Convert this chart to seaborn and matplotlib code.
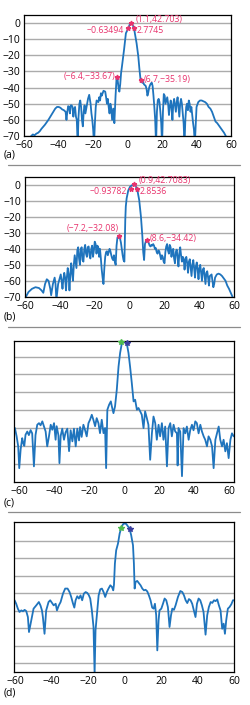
import numpy as np
import pandas as pd
import seaborn as sns
import matplotlib.pyplot as plt
from matplotlib.lines import Line2D

# ---- data (angle in deg, level in dB) ----
# panel (a)
a_x = [-56, -55, -54, -53, -52, -51, -50, -48, -46, -44,
       -42, -41, -40, -39, -38, -37, -36, -35.5, -35, -34.5,
       -34, -33.5, -33, -32.5, -32, -31.5, -31, -30.5, -30, -29.5,
       -29, -28.5, -28, -27.5, -27, -26.5, -26, -25.5, -25, -24.5,
       -24, -23.5, -23, -22.3, -21.5, -21, -20.5, -20, -19.5, -19,
       -18.5, -18, -17, -16.5, -16, -15.5, -15, -14, -13, -12.5,
       -12, -11.5, -11, -10.5, -10, -9.5, -9, -8.3, -7.7, -7,
       -6.4, -5.8, -5.3, -4.8, -4.3, -3.8, -3.3, -2.1, -1, 0.4,
       1.2, 2, 2.8, 3.7, 4.2, 5.2, 6.2, 6.8, 7.5, 8,
       8.5, 9, 9.5, 10, 10.5, 11, 11.5, 12, 12.5, 13,
       13.5, 14, 14.5, 15, 15.5, 16, 16.5, 17, 17.5, 18,
       18.5, 19, 19.5, 20, 20.5, 21, 21.5, 22, 22.5, 23,
       23.5, 24, 24.5, 25, 25.5, 26, 26.5, 27, 27.5, 28,
       28.5, 29, 29.5, 30, 30.5, 31, 31.5, 32, 32.5, 33,
       33.5, 34, 34.5, 35, 35.5, 36, 36.5, 37, 37.5, 38,
       38.5, 39, 40, 41, 42, 43, 44, 45, 46, 47,
       48, 49, 50, 51, 52, 53, 54, 55, 56, 57]
a_y = [-70, -69, -69.5, -68.5, -68, -67, -65.5, -63, -60, -56.5,
       -53, -52, -52, -52.5, -53.5, -54, -55, -60, -55, -51.5,
       -52, -56, -51, -51, -52, -58, -53, -52, -58, -60,
       -75, -58, -50, -48, -52, -60, -64, -55, -51, -56,
       -53, -50, -47, -44.5, -50, -56, -60, -66, -75, -62,
       -52, -48, -49, -46, -48, -43.5, -45, -42, -42.5, -46,
       -50, -47, -52, -56, -50, -53, -60, -53, -62, -45,
       -33.7, -35, -40, -42.5, -38, -31, -27, -16.8, -6.4, -3.3,
       -1, 0, -1, -3.3, -6.4, -12.6, -20.8, -28, -35.2, -36,
       -37, -36.5, -38, -38.5, -39, -41, -45, -43, -40, -38.5,
       -37.5, -37, -39, -45, -52, -60, -75, -55, -48, -47,
       -49, -55, -62, -75, -55, -44, -45, -50, -48, -46,
       -50, -57, -52, -48, -52, -60, -50, -47, -51, -55,
       -49, -46, -52, -58, -50, -47, -50, -56, -62, -75,
       -60, -52, -50, -54, -48, -50, -55, -52, -57, -62,
       -66, -75, -52, -49, -48, -48, -48.5, -49, -50, -52,
       -53, -55, -58, -61, -62, -63.5, -65, -66.5, -68, -70]
a_mark_x = [2, 0.4, 3.7, -6.4, 7.5]
a_mark_y = [0, -3.3, -3.3, -33.67, -35.19]

# panel (b)
b_x = [-59.5, -58, -56, -54, -52, -50.5, -49.5, -48.5, -47.5, -46.5,
       -45.5, -45, -44, -43, -42.5, -42, -41, -40.5, -39.5, -39,
       -38.5, -38, -37.5, -37, -36.5, -36, -35.5, -35, -34.5, -34,
       -33.5, -33, -32.5, -32, -31.5, -31, -30.5, -30, -29.5, -29,
       -28.5, -28, -27.5, -27, -26.5, -26, -25.5, -25, -24.5, -24,
       -23.5, -23, -22.5, -22, -21.5, -21, -20.5, -20, -19.5, -19,
       -18.5, -18, -17.5, -17, -16.5, -16, -15.5, -15, -14.5, -14,
       -13.5, -13, -12.5, -12, -11.5, -11, -10.5, -10, -9.5, -9,
       -8.5, -8, -7.5, -7, -6, -5.5, -5, -4.5, -4, -3.5,
       -3, -2.5, -2.2, -1.7, -0.8, 0.2, 1.3, 2.5, 3.4, 4.4,
       5.5, 6.5, 7.3, 7.8, 8.3, 8.8, 9.4, 10, 10.5, 11,
       11.5, 12, 12.5, 13, 13.5, 14, 14.5, 15, 15.5, 16,
       16.5, 17, 17.5, 18, 18.5, 19, 19.5, 20, 20.5, 21,
       21.5, 22, 22.5, 23, 23.5, 24, 24.5, 25, 25.5, 26,
       26.5, 27, 27.5, 28, 28.5, 29, 29.5, 30, 30.5, 31,
       31.5, 32, 32.5, 33, 33.5, 34, 34.5, 35, 35.5, 36,
       36.5, 37, 37.5, 38, 38.5, 39, 39.5, 40, 40.5, 41,
       41.5, 42, 42.5, 43, 43.5, 44, 44.5, 45, 45.5, 46,
       47, 47.5, 48, 48.5, 49, 50, 51, 52, 53, 54,
       55, 56, 57, 58, 59]
b_y = [-70, -67, -65, -64, -64.5, -66, -67.5, -62, -59, -60,
       -65, -69, -62, -58, -62, -72, -62, -60, -56, -60,
       -65, -59, -55, -58, -66, -58, -52, -56, -66, -56,
       -49, -55, -60, -50, -44, -48, -52, -41, -39, -46,
       -50, -40, -39, -47, -48, -40, -37.5, -43, -45, -39,
       -38.5, -44, -46, -40, -38, -45, -41, -35.5, -37, -43,
       -38, -39, -45, -40, -46, -53, -58, -62, -52, -45,
       -42, -41.5, -44, -42, -40, -41.5, -44, -46, -47, -44,
       -48, -50, -38, -33, -32, -33.5, -36, -40, -44, -47,
       -48, -22, -13.5, -8.3, -3.5, -1.2, -0.2, 0, -0.6, -3,
       -9.5, -20, -32, -42, -47, -37, -35, -34.4, -35.5, -36.5,
       -38, -38.5, -37.5, -38, -37, -38, -40, -39.5, -42, -43,
       -41, -41.5, -44, -46.5, -44, -45, -48, -49, -42, -38.5,
       -37, -41, -43, -37.5, -39, -45, -41, -40, -46, -49,
       -42, -40.5, -45, -51, -43, -39, -44, -48, -45, -46,
       -53, -47, -45, -49, -55, -48, -46.5, -52, -57, -50,
       -47, -52, -58, -51, -48.5, -53, -59, -52, -50, -55,
       -60, -53, -52, -57, -62, -55, -54, -58, -63, -57,
       -56, -60, -64, -62, -58, -56, -55.5, -56, -57, -58.5,
       -60, -63, -65, -67.5, -70]
b_mark_x = [2.5, 0.6, 4.4, -6, 10]
b_mark_y = [0.4, -2.5, -2.7, -32.08, -34.42]

# panel (c)
c_x = [-62.5, -61.5, -60.6, -60, -59.2, -58.3, -57.7, -57.1, -56.4, -55.4,
       -54.5, -53.5, -52.6, -51.6, -50.7, -49.7, -48.7, -47.8, -46.8, -45.9,
       -44.9, -44, -43, -42, -41.1, -40.1, -39.2, -38.6, -37.6, -37,
       -36.3, -35.4, -34.4, -33.5, -32.5, -31.5, -30.6, -29.6, -28.7, -27.7,
       -26.8, -25.8, -25.2, -24.3, -23.3, -22.4, -21.4, -20.4, -19.5, -18.5,
       -17.6, -16.6, -15.7, -14.7, -13.8, -12.8, -11.8, -10.9, -10.3, -9.6,
       -8.6, -7.6, -7, -6.1, -5.2, -4.2, -3.2, -2.3, -1.3, -0.4,
       0.6, 1.5, 2.5, 3.4, 4.4, 5.4, 6.3, 7.3, 8.2, 9.2,
       10.1, 11.1, 12, 13, 13.9, 14.9, 15.9, 16.8, 17.8, 18.7,
       19.7, 20.6, 21.6, 22.5, 23.5, 24.5, 25.4, 26.4, 27.3, 28.3,
       29.2, 30.2, 30.6, 31.1, 32.1, 33.1, 34, 35, 35.9, 36.9,
       37.8, 38.8, 39.7, 40.7, 41.6, 42.6, 43.6, 44.5, 45.5, 46.4,
       47.4, 48.3, 49.3, 50.3, 51.2, 52.2, 53.1, 54.1, 55, 56,
       56.9, 57.9, 58.8, 59.8, 60.8, 61.7, 62.7]
c_y = [-50, -54.7, -60.3, -72.5, -62, -55.7, -58.5, -60, -53.8, -52,
       -54, -51.2, -53, -71.5, -54, -48.2, -47.3, -48.5, -46.3, -49,
       -52, -60.3, -54.7, -48.2, -51, -47.3, -56.6, -49, -54, -69.7,
       -54.5, -50.4, -56.6, -52.5, -50.4, -63, -51.3, -57.5, -50.4, -60.3,
       -50.4, -57, -49.5, -55, -48.2, -51, -54.7, -47.3, -45.4, -42.6,
       -45.4, -49, -44.5, -47.3, -52.9, -45.4, -52.9, -50, -72.5, -39.8,
       -37, -35.1, -38, -41.7, -37.9, -28.6, -15.6, -8, -2.5, -1,
       -1.2, -2.5, -8, -15.6, -24.9, -35.1, -34.2, -39.8, -38.8, -40.7,
       -42.6, -50.1, -40.7, -44.5, -48.2, -67.8, -52.9, -43.6, -47.3, -56.6,
       -48.2, -54.7, -47.3, -56.6, -49.2, -71.5, -50.1, -47.3, -54.7, -48.2,
       -51.9, -53, -71, -50, -52, -77, -50.1, -53, -49.2, -56.6,
       -51.3, -48.2, -51.3, -46.3, -47.3, -53, -48.2, -51.9, -54.7, -56.6,
       -60.3, -54.7, -56.6, -60.3, -72.5, -56.6, -53, -49.2, -56.6, -60.3,
       -56.6, -63.1, -58.5, -66.9, -56.6, -53, -54.7]
c_mark_x = [-1.7, 1.5]
c_mark_y = [-1.8, -2.3]

# panel (d)
d_x = [-60.2, -59.3, -58.4, -57.5, -56.5, -55.6, -54.7, -53.8, -52.9, -52.3,
       -51.6, -50.7, -49.8, -48.3, -46.9, -46, -45.2, -44.7, -43.8, -42.9,
       -41.6, -40.7, -39.7, -38.8, -37.7, -37, -36, -35, -33.7, -32.5,
       -31.2, -30.1, -29.2, -28.3, -27.5, -26.8, -25.9, -25, -24.1, -23.2,
       -22.3, -21.3, -20.4, -19.6, -18.8, -17.9, -17, -16.4, -15.9, -15.1,
       -14.2, -13.3, -12.4, -11.5, -10.6, -9.7, -8.8, -7.8, -6.9, -6.2,
       -5.8, -5.3, -4.6, -3.6, -2.7, -1.8, -0.9, 0, 0.9, 1.8,
       2.7, 3.6, 4.6, 5.1, 5.5, 6, 6.9, 7.8, 8.8, 9.7,
       10.6, 11.5, 12.4, 13.3, 14.2, 15.1, 15.9, 16.6, 17.3, 17.9,
       18.6, 19.1, 20.1, 21, 21.9, 22.8, 23.7, 24.6, 25.4, 26.1,
       27, 27.9, 29.2, 30.5, 31.6, 32.5, 33.4, 34.3, 35.2, 36.1,
       37, 37.9, 38.8, 39.6, 40.5, 41.4, 42.3, 43.2, 44.3, 45.2,
       46.1, 47.1, 48, 48.9, 49.8, 50.7, 51.6, 52.5, 53.4, 54.2,
       54.9, 55.6, 56.5, 57.4, 58.4, 59.3, 60]
d_y = [-44, -46, -48.8, -50.7, -49.8, -50.3, -49.5, -50.2, -53.6, -62.2,
       -58.4, -53.6, -48.8, -46.9, -45, -47, -49.8, -53.6, -63.2, -49.8,
       -45, -44, -45.5, -46.9, -46, -49.8, -47, -45, -40.2, -37.3,
       -37.3, -39.3, -42.1, -45.6, -48.2, -44, -41.7, -43, -41.2, -44,
       -40.2, -39.3, -39.8, -41, -43, -49.8, -59.3, -86, -61.2, -51.7,
       -41.2, -37.7, -37.3, -39.3, -42.1, -39.3, -37.3, -35.4, -36.4, -38.3,
       -35, -23, -15.4, -11.5, -5.8, -2.4, -0.5, 0, -0.3, -1.6,
       -2.9, -6.7, -12.5, -23, -37.3, -33.5, -32.9, -34.1, -35.5, -37.3,
       -38.3, -38, -38.9, -41.2, -44, -48.2, -48.8, -46, -52.6, -72.7,
       -55.5, -49.8, -48.8, -46, -43, -44, -47.9, -59.3, -52.6, -48.8,
       -49.5, -46.9, -42.1, -38.7, -39.3, -41.2, -44, -45.6, -43.3, -44,
       -46, -49.8, -53.6, -46, -43, -44, -46.9, -50.7, -63.7, -52.6,
       -47.9, -45, -45.5, -44, -44.5, -43.5, -46.9, -49.8, -60.3, -57.4,
       -63.2, -55.5, -48.8, -47.9, -46.3, -44, -44]
d_mark_x = [-1.8, 2.7]
d_mark_y = [-2.4, -2.9]

a_labels = ["(1.1,42.703)", "\u22120.63494", "2.7745", "(\u22126.4,\u221233.67)", "(6.7,\u221235.19)"]
b_labels = ["(0.9,42.7083)", "\u22120.93782", "2.8536", "(\u22127.2,\u221232.08)", "(8.6,\u221234.42)"]

BLUE = "#1f74bd"
PINK = "#e8336d"
GRID = "#ababab"

sns.set_theme(style="white")
plt.rcParams["font.family"] = ["Open Sans", "DejaVu Sans"]
plt.rcParams["axes.unicode_minus"] = True

fig = plt.figure(figsize=(2.5, 7.05), dpi=100)

# axes boxes (figure fractions)
ax_a = fig.add_axes([0.097, 0.807, 0.827, 0.172])
ax_b = fig.add_axes([0.100, 0.579, 0.837, 0.170])
ax_c = fig.add_axes([0.056, 0.317, 0.881, 0.200])
ax_d = fig.add_axes([0.056, 0.047, 0.881, 0.213])


def style_axes(ax, ylim, yticks, show_ylabels, xlim):
    ax.set_xlim(*xlim)
    ax.set_ylim(*ylim)
    ax.set_xticks([-60, -40, -20, 0, 20, 40, 60])
    ax.set_yticks(yticks)
    ax.grid(axis="y", color=GRID, linewidth=1.0)
    ax.grid(axis="x", visible=False)
    ax.set_axisbelow(True)
    for s in ax.spines.values():
        s.set_color("black")
        s.set_linewidth(0.9)
    ax.tick_params(axis="x", direction="in", length=3, width=0.6, labelsize=7.5, pad=3, colors="black")
    ax.tick_params(axis="y", length=0, labelsize=7.5, pad=3, colors="black")
    if not show_ylabels:
        ax.set_yticklabels([])
    ax.set_xlabel("")
    ax.set_ylabel("")


def draw(ax, x, y):
    df = pd.DataFrame({"angle": x, "level": y})
    sns.lineplot(data=df, x="angle", y="level", ax=ax, color=BLUE,
                 linewidth=1.3, sort=False, estimator=None)


draw(ax_a, a_x, a_y)
draw(ax_b, b_x, b_y)
draw(ax_c, c_x, c_y)
draw(ax_d, d_x, d_y)

style_axes(ax_a, (-70, 5), range(0, -71, -10), True, (-60, 60))
style_axes(ax_b, (-70, 5), range(0, -71, -10), True, (-60, 60))
style_axes(ax_c, (-80, -1), range(-10, -71, -10), False, (-63, 63))
style_axes(ax_d, (-85, 1), range(-10, -81, -10), False, (-60.5, 60))

# annotations in (a) and (b)
fs = 6.3
for ax, mx, my, labs in [(ax_a, a_mark_x, a_mark_y, a_labels),
                         (ax_b, b_mark_x, b_mark_y, b_labels)]:
    ax.plot(mx, my, linestyle="none", marker="*", markersize=3.5, color=PINK, zorder=5)
    ax.text(mx[0] + 2.6, my[0] + 2.2, labs[0], color=PINK, fontsize=fs, ha="left", va="center")
    ax.text(mx[1] - 2.3, my[1] - 1.6, labs[1], color=PINK, fontsize=fs, ha="right", va="center")
    ax.text(mx[2] + 1.4, my[2] - 1.6, labs[2], color=PINK, fontsize=fs, ha="left", va="center")

ax_a.text(a_mark_x[3] - 0.8, a_mark_y[3] + 0.3, a_labels[3], color=PINK, fontsize=fs, ha="right", va="center")
ax_a.text(a_mark_x[4] + 1.5, a_mark_y[4], a_labels[4], color=PINK, fontsize=fs, ha="left", va="center")
ax_b.text(b_mark_x[3] - 0.5, b_mark_y[3] + 5.0, b_labels[3], color=PINK, fontsize=fs, ha="right", va="center")
ax_b.text(b_mark_x[4] + 1.5, b_mark_y[4] + 1.0, b_labels[4], color=PINK, fontsize=fs, ha="left", va="center")

# small markers at the beam edges in (c) and (d)
for ax, mx, my in [(ax_c, c_mark_x, c_mark_y), (ax_d, d_mark_x, d_mark_y)]:
    ax.plot(mx[:1], my[:1], linestyle="none", marker="*", markersize=4, color="#4dbb4d", zorder=5, clip_on=False)
    ax.plot(mx[1:], my[1:], linestyle="none", marker="*", markersize=4, color="#3b3f9e", zorder=5, clip_on=False)

# panel letters
for lab, ypix in [("(a)", 155), ("(b)", 317), ("(c)", 503), ("(d)", 693)]:
    fig.text(4 / 250, 1 - ypix / 705, lab, fontsize=7.5, ha="left", va="center", color="black")

# separator rules between panels
for ypix in [165, 327, 512]:
    fig.add_artist(Line2D([8 / 250, 240 / 250], [1 - ypix / 705] * 2,
                          transform=fig.transFigure, color="#8c8c8c", linewidth=0.9))

fig.savefig("out.png", dpi=100)
